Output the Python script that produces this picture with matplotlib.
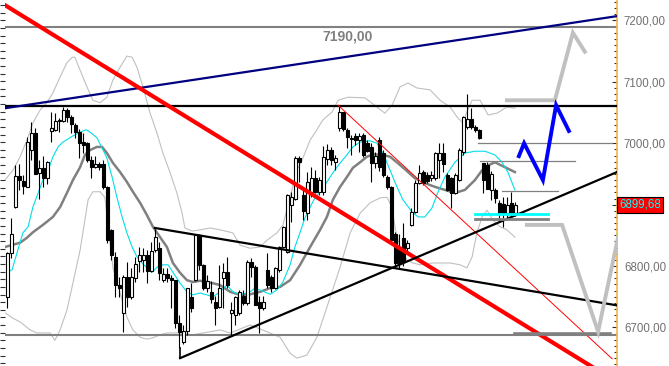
import numpy as np
import matplotlib
matplotlib.use("Agg")
import matplotlib.pyplot as plt

# ---------------- data (daily candles, index 0..127) ----------------
opens = [6750, 6821, 6896, 6946, 6938, 6929, 6989, 7016, 6952, 6959,
         6943, 7020, 7021, 7036, 7036, 7054, 7042, 7029, 7019, 7002,
         7000, 6972, 6961, 6967, 6967, 6928, 6858, 6814, 6769, 6723,
         6782, 6749, 6780, 6808, 6810, 6818, 6792, 6826, 6829, 6777,
         6787, 6780, 6777, 6708, 6676, 6695, 6749, 6777, 6850, 6801,
         6765, 6757, 6741, 6733, 6780, 6790, 6723, 6720, 6723, 6752,
         6739, 6806, 6798, 6741, 6731, 6793, 6782, 6764, 6793, 6831,
         6823, 6899, 6910, 6976, 6916, 6886, 6921, 6943, 6921, 6921,
         6975, 6989, 6969, 7025, 7051, 7022, 7009, 7012, 7005, 7013,
         7000, 6994, 6968, 7005, 6984, 6945, 6928, 6853, 6831, 6845,
         6829, 6867, 6888, 6935, 6953, 6948, 6943, 6943, 6973, 6984,
         6948, 6943, 6919, 6940, 6985, 7026, 7040, 7026, 7022, 6968,
         6965, 6924, 6924, 6903, 6901, 6886, 6903, 6886]
highs = [6823, 6878, 6965, 6967, 6948, 7010, 7034, 7025, 6972, 6980,
         6971, 7051, 7049, 7041, 7059, 7057, 7046, 7033, 7024, 7016,
         7002, 6980, 6980, 6969, 6972, 6930, 6860, 6823, 6782, 6785,
         6806, 6796, 6814, 6831, 6829, 6826, 6839, 6861, 6839, 6796,
         6796, 6785, 6777, 6720, 6704, 6764, 6772, 6852, 6852, 6803,
         6785, 6775, 6752, 6801, 6805, 6814, 6741, 6752, 6761, 6761,
         6810, 6813, 6801, 6752, 6752, 6821, 6785, 6798, 6833, 6866,
         6917, 6920, 6980, 6980, 6925, 6953, 6961, 6957, 6945, 6995,
         6999, 6994, 6981, 7062, 7051, 7025, 7013, 7017, 7017, 7017,
         7005, 7000, 6985, 7010, 6989, 6948, 6930, 6855, 6853, 6870,
         6843, 6895, 6940, 6965, 6956, 6953, 6955, 6985, 7000, 7000,
         6951, 6945, 6951, 6993, 7045, 7081, 7057, 7029, 7024, 6968,
         6970, 6955, 6927, 6908, 6912, 6912, 6920, 6905]
lows = [6732, 6813, 6895, 6924, 6917, 6928, 6972, 6950, 6910, 6928,
        6933, 7002, 7020, 7018, 7034, 7034, 7016, 7008, 6976, 6984,
        6969, 6943, 6959, 6957, 6926, 6837, 6810, 6749, 6749, 6692,
        6733, 6747, 6774, 6790, 6790, 6772, 6790, 6823, 6777, 6774,
        6774, 6731, 6699, 6666, 6673, 6687, 6725, 6775, 6793, 6761,
        6757, 6739, 6704, 6731, 6731, 6765, 6687, 6704, 6720, 6736,
        6736, 6782, 6736, 6691, 6728, 6765, 6757, 6762, 6791, 6829,
        6821, 6872, 6907, 6937, 6875, 6875, 6912, 6919, 6915, 6915,
        6965, 6965, 6956, 7020, 7020, 6992, 6981, 6997, 6985, 6978,
        6985, 6937, 6960, 6955, 6945, 6925, 6840, 6798, 6795, 6800,
        6821, 6865, 6886, 6933, 6932, 6935, 6939, 6940, 6943, 6953,
        6923, 6894, 6917, 6938, 6981, 7024, 7024, 7019, 7007, 6919,
        6925, 6908, 6903, 6872, 6863, 6875, 6880, 6882]
closes = [6821, 6852, 6946, 6940, 6930, 7002, 7016, 6950, 6959, 6943,
          6969, 7025, 7036, 7038, 7054, 7042, 7031, 7019, 7000, 6997,
          6972, 6961, 6967, 6961, 6928, 6842, 6818, 6769, 6764, 6782,
          6749, 6782, 6803, 6818, 6818, 6792, 6824, 6847, 6788, 6787,
          6780, 6777, 6708, 6692, 6695, 6764, 6731, 6850, 6801, 6765,
          6775, 6747, 6731, 6765, 6790, 6769, 6728, 6749, 6757, 6739,
          6806, 6798, 6736, 6731, 6741, 6769, 6765, 6796, 6831, 6863,
          6915, 6912, 6976, 6969, 6890, 6937, 6943, 6921, 6940, 6978,
          6989, 6973, 6976, 7051, 7023, 7010, 7007, 7005, 7011, 6981,
          6987, 6968, 6980, 6961, 6948, 6929, 6842, 6805, 6805, 6806,
          6837, 6888, 6935, 6951, 6935, 6939, 6948, 6984, 6984, 6967,
          6924, 6919, 6948, 6989, 7042, 7040, 7026, 7021, 7008, 6940,
          6925, 6950, 6911, 6886, 6886, 6899, 6886, 6899.68]

# fast moving average (cyan) : bar index / value
fast_x = [0, 1.2, 2.4, 3.9, 5.2, 6.4, 7.7, 8.9, 10.2, 11.4, 12.7, 13.9, 15.2, 16.4,
          18.2, 19.7, 20.7, 22.4, 23.7, 24.9, 26.2, 27.4, 28.7, 29.9, 31.2, 32.4,
          33.7, 34.9, 36.2, 37.4, 38.9, 40.2, 41.4, 43.2, 44.9, 46.4, 48.2, 49.9,
          51.4, 53.2, 54.9, 56.4, 58.2, 60.7, 61.9, 63.2, 65.7, 67.4, 68.9, 70.7,
          71.9, 73.2, 74.4, 75.7, 76.9, 78.2, 79.9, 81.4, 83.2, 84.9, 86.4, 88.2,
          90.7, 92.4, 93.9, 95.7, 97.4, 98.9, 101.2, 102.7, 104.4, 106.2, 107.7,
          109.4, 111.9, 114.4, 116.9, 119.4, 121.9, 123.7, 125.2, 126.9]
fast_y = [6790, 6794, 6821, 6854, 6864, 6896, 6919, 6940, 6956, 6978, 6994, 7002,
          7007, 7012, 7018, 7022, 7018, 7009, 6992, 6976, 6945, 6912, 6880, 6854,
          6831, 6815, 6805, 6797, 6790, 6798, 6802, 6802, 6790, 6772, 6758, 6753,
          6756, 6753, 6750, 6758, 6769, 6758, 6753, 6758, 6764, 6761, 6754, 6761,
          6774, 6802, 6831, 6855, 6878, 6896, 6911, 6921, 6937, 6952, 6968, 6981,
          6994, 7002, 7004, 7000, 6984, 6956, 6929, 6908, 6888, 6880, 6880, 6895,
          6921, 6945, 6969, 6984, 6987, 6987, 6981, 6969, 6952, 6924]

# slow moving average (grey)
slow_x = [-0.6, 3.2, 4.9, 6.4, 8.9, 11.4, 13.2, 14.9, 16.4, 18.2, 19.4, 20.7, 22.4,
          23.7, 24.9, 26.4, 28.2, 29.9, 31.4, 33.2, 34.9, 36.4, 38.2, 39.9, 41.4,
          43.2, 44.9, 46.4, 48.2, 49.9, 51.4, 53.2, 55.7, 58.2, 60.7, 63.2, 65.7,
          68.2, 70.7, 73.2, 75.7, 78.2, 79.9, 81.4, 83.2, 84.9, 86.4, 88.2, 89.9,
          91.4, 93.9, 95.7, 97.4, 99.7, 101.9, 104.4, 106.9, 109.4, 111.9, 114.4,
          116.9, 118.7, 120.2, 121.9, 124.4, 126.9]
slow_y = [6831, 6838, 6846, 6855, 6867, 6880, 6896, 6919, 6940, 6961, 6981, 6989,
          6994, 6994, 6984, 6968, 6953, 6937, 6921, 6903, 6883, 6864, 6847, 6831,
          6805, 6789, 6777, 6774, 6776, 6774, 6772, 6769, 6758, 6753, 6754, 6758,
          6764, 6766, 6777, 6802, 6831, 6859, 6880, 6908, 6929, 6945, 6960, 6969,
          6978, 6982, 6981, 6978, 6969, 6956, 6943, 6935, 6929, 6924, 6919, 6924,
          6940, 6956, 6964, 6969, 6961, 6953]

# Bollinger bands (light grey)
bb_up_x = [-0.6, 1.4, 3.2, 4.9, 6.4, 8.2, 9.9, 11.4, 13.2, 14.9, 16.2, 16.9, 18.2,
           19.9, 21.4, 23.2, 24.9, 26.4, 28.2, 29.9, 31.2, 32.4, 33.9, 35.7, 37.4,
           38.9, 40.7, 42.4, 43.7, 44.4, 46.2, 48.2, 50.7, 53.2, 56.4, 58.2, 60.7,
           63.2, 64.9, 67.4, 68.9, 70.7, 72.4, 73.9, 75.7, 77.4, 78.9, 81.2, 82.7,
           85.2, 89.4, 92.4, 94.4, 96.2, 98.2, 100.2, 102.4, 105.7, 108.2, 110.7,
           112.4, 113.9, 114.9, 116.2, 118.2, 120.2, 122.4, 124.9, 126.9]
bb_up_y = [6940, 6956, 6978, 7005, 7033, 7054, 7066, 7082, 7108, 7131, 7140, 7140,
           7119, 7092, 7070, 7066, 7075, 7103, 7124, 7142, 7140, 7124, 7092, 7049,
           7017, 6984, 6952, 6919, 6886, 6862, 6857, 6859, 6862, 6859, 6854, 6834,
           6829, 6831, 6842, 6854, 6867, 6912, 6956, 6976, 7005, 7022, 7038, 7051,
           7070, 7075, 7074, 7059, 7049, 7062, 7092, 7098, 7090, 7087, 7070, 7059,
           7043, 7033, 7051, 7070, 7070, 7046, 7049, 7059, 7057]
bb_lo_x = [-0.6, 1.4, 3.2, 5.7, 7.4, 10.7, 11.9, 13.2, 14.9, 16.4, 18.2, 19.4, 20.2,
           21.4, 23.2, 24.4, 25.2, 26.4, 28.2, 29.9, 31.4, 33.2, 34.9, 36.4, 38.2,
           39.9, 43.2, 46.4, 53.2, 55.7, 60.7, 64.9, 68.2, 70.7, 72.4, 74.9, 77.4,
           79.9, 83.2, 85.7, 88.2, 90.7, 93.2, 94.9, 96.2, 97.0, 98.2, 99.9, 101.4,
           103.2, 106.4, 110.7, 113.2, 114.9, 116.2, 117.4, 118.7, 119.9, 121.4,
           123.2, 124.9, 126.9]
bb_lo_y = [6724, 6715, 6709, 6696, 6691, 6691, 6679, 6696, 6728, 6772, 6826, 6875,
           6908, 6921, 6921, 6912, 6864, 6798, 6756, 6717, 6696, 6684, 6681, 6683,
           6688, 6691, 6691, 6688, 6696, 6691, 6704, 6693, 6684, 6658, 6650, 6655,
           6684, 6733, 6798, 6854, 6886, 6903, 6911, 6912, 6896, 6860, 6831, 6810,
           6805, 6802, 6805, 6805, 6802, 6797, 6815, 6854, 6880, 6891, 6875, 6864,
           6859, 6847]

# drawn trend lines: (x0, y0, x1, y1) in bar index / price
navy_line = (-0.6, 7057, 152.4, 7207)
red_thick_line = (-0.6, 7225, 152.4, 6611)
red_thin_line = (82.7, 7062, 151.2, 6649)
black_down_line = (36.9, 6862, 152.4, 6736)
black_up_line = (43.2, 6650, 152.4, 6953)
black_stub = (43.2, 6650, 43.2, 6666)
resistance_level = 7060
target_level = 7190
support_level = 6688

# projected paths
grey_up_x = [124.9, 136.9, 141.4, 144.4]
grey_up_y = [7070, 7070, 7180, 7149]
grey_dn_x = [129.9, 138.7, 147.7, 153.7]
grey_dn_y = [6867, 6867, 6693, 6878]
blue_x = [127.9, 129.2, 133.9, 137.2, 140.4]
blue_y = [6979, 7000, 6940, 7062, 7020]

# short horizontal marks (x0, x1, level)
grey_marks = [(117.7, 151.2, 7000), (118.2, 141.9, 6971), (123.7, 137.7, 6922)]
cyan_mark = (116.9, 135.2, 6885)
grey_mark_thick = (116.9, 135.2, 6876)
bottom_mark = (127.0, 150.7, 6690)

last_price = 6899.68
price_ticks = [6700, 6800, 6900, 7000, 7100, 7200]
labelled_ticks = [6700, 6800, 7000, 7100, 7200]   # 6900 is hidden behind the last-price box

# ---------------- drawing ----------------
plt.rcParams['font.family'] = ['Liberation Sans', 'DejaVu Sans']
W, H = 669, 366
fig = plt.figure(figsize=(W / 100, H / 100), dpi=100)
fig.patch.set_facecolor('white')
left_px, right_px = 5, 617
ax = fig.add_axes([left_px / W, 0, (right_px - left_px) / W, 1])
ax.set_facecolor('white')
ax.set_xlim(-0.575, 152.425)
ax.set_ylim(6637.2, 7233.3)

# bands and averages
ax.plot(bb_up_x, bb_up_y, color='#c0c0c0', lw=0.8, zorder=1)
ax.plot(bb_lo_x, bb_lo_y, color='#c0c0c0', lw=0.8, zorder=1)
ax.plot(slow_x, slow_y, color='#808080', lw=1.8, zorder=2)
ax.plot(fast_x, fast_y, color='#00e0e8', lw=0.8, zorder=2)

# horizontal levels
ax.axhline(target_level, color='#808080', lw=1.5, zorder=2)
ax.axhline(support_level, color='#808080', lw=1.5, zorder=2)
ax.axhline(resistance_level, color='black', lw=1.6, zorder=5)

# candles
idx = np.arange(len(opens))
o = np.array(opens, float); c = np.array(closes, float)
hi = np.array(highs, float); lo = np.array(lows, float)
up = c >= o
bottom = np.minimum(o, c)
height = np.maximum(np.abs(c - o), 1.0)
ax.vlines(idx, lo, hi, color='black', lw=0.8, zorder=3)
ax.bar(idx[up], height[up], bottom=bottom[up], width=0.62, facecolor='white',
       edgecolor='black', lw=0.8, zorder=4)
ax.bar(idx[~up], height[~up], bottom=bottom[~up], width=0.62, facecolor='black',
       edgecolor='black', lw=0.8, zorder=4)

def seg(t, **kw):
    ax.plot([t[0], t[2]], [t[1], t[3]], **kw)

seg(navy_line, color='#000080', lw=1.6, zorder=6)
seg(red_thick_line, color='#ff0000', lw=3.0, zorder=6)
seg(red_thin_line, color='#ff0000', lw=0.7, zorder=6)
seg(black_down_line, color='black', lw=1.6, zorder=6)
seg(black_up_line, color='black', lw=1.6, zorder=6)
seg(black_stub, color='black', lw=1.2, zorder=6)

for x0, x1, lv in grey_marks:
    ax.plot([x0, x1], [lv, lv], color='#808080', lw=0.9, zorder=6)
ax.plot([cyan_mark[0], cyan_mark[1]], [cyan_mark[2]] * 2, color='#00ffff', lw=2.0, zorder=7)
ax.plot([grey_mark_thick[0], grey_mark_thick[1]], [grey_mark_thick[2]] * 2,
        color='#808080', lw=2.0, zorder=7)
ax.plot([bottom_mark[0], bottom_mark[1]], [bottom_mark[2]] * 2, color='#808080', lw=2.6, zorder=6)

ax.plot(grey_up_x, grey_up_y, color='#c0c0c0', lw=2.8, zorder=6, solid_joinstyle='miter')
ax.plot(grey_dn_x, grey_dn_y, color='#c0c0c0', lw=2.8, zorder=6, solid_joinstyle='miter')
ax.plot(blue_x, blue_y, color='#0000ff', lw=2.8, zorder=7, solid_joinstyle='miter')

ax.text(85, 7174, '7190,00', color='#808080', fontsize=10, fontweight='bold',
        ha='center', va='center', zorder=8)

# axes styling
for s in ['top', 'bottom', 'left']:
    ax.spines[s].set_visible(False)
ax.spines['right'].set_color('#f0b848')
ax.spines['right'].set_linewidth(1.2)
ax.set_xticks([])
ax.yaxis.tick_right()
ax.set_yticks(price_ticks)
ax.set_yticklabels([f"{v:.2f}".replace('.', ',') if v in labelled_ticks else ''
                    for v in price_ticks])
ax.set_yticks(np.arange(6640, 7240, 10), minor=True)
ax.tick_params(axis='y', which='major', direction='in', length=3.5, width=0.8,
               color='#303030', labelsize=8.3, labelcolor='#707070', pad=5)
ax.tick_params(axis='y', which='minor', direction='in', length=2.5, width=0.8,
               color='#303030')

# last price box
ax.text(1.0035, last_price, f"{last_price:.2f}".replace('.', ','),
        transform=ax.get_yaxis_transform(), ha='left', va='center',
        fontsize=8.3, color='#00ffff', zorder=10, clip_on=False,
        bbox=dict(boxstyle='square,pad=0.15', facecolor='#ff0000', edgecolor='black', lw=0.8))

# left tick strip
ax2 = fig.add_axes([left_px / W, 0, (right_px - left_px) / W, 1], frameon=False)
ax2.set_xlim(0, 1)
ax2.set_ylim(48.03, 0)
ax2.set_xticks([])
ax2.set_yticks(np.arange(0.66, 48, 1.0))
ax2.set_yticklabels([])
ax2.tick_params(axis='y', direction='out', length=3.6, width=0.8, color='#303030')
ax2.patch.set_alpha(0)

fig.savefig('out.png', dpi=100, facecolor='white')
